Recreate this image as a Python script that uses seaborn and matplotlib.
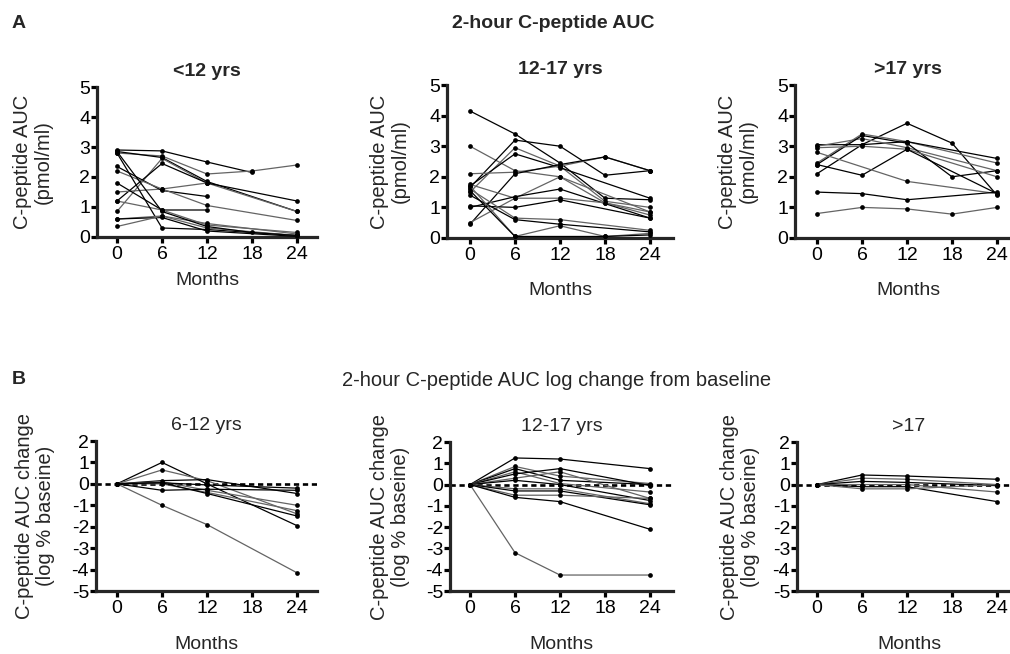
import numpy as np
import pandas as pd
import matplotlib
matplotlib.use("Agg")
import matplotlib.pyplot as plt
import seaborn as sns

nan = np.nan

# ---------------- data ----------------
months = [0, 6, 12, 18, 24]
month_ticks = [0, 6, 12, 18, 24]
auc_ticks = [0, 1, 2, 3, 4, 5]
change_ticks = [-5, -4, -3, -2, -1, 0, 1, 2]

# Panel A: 2-hour C-peptide AUC (pmol/ml), one list per participant
auc_lt12 = [
    [2.90, 2.87, 2.50, 2.15, nan],
    [2.80, 2.70, 2.10, 2.20, 2.40],
    [2.85, 2.65, 1.85, nan, 0.85],
    [0.85, 2.62, 1.80, nan, 0.85],
    [1.20, 2.45, 1.80, nan, 1.20],
    [1.50, 1.60, 1.80, nan, nan],
    [2.35, 1.55, 1.35, nan, nan],
    [2.20, 1.60, 1.05, nan, 0.55],
    [1.80, 0.90, 0.90, nan, nan],
    [1.20, 0.90, 0.40, nan, 0.15],
    [2.80, 0.30, 0.25, nan, 0.05],
    [0.60, 0.70, 0.30, nan, 0.05],
    [0.60, 0.65, 0.20, nan, 0.02],
    [0.35, 0.70, 0.45, nan, 0.10],
    [2.85, 0.85, 0.35, 0.15, 0.05],
]
auc_12_17 = [
    [4.15, 3.40, 2.45, 1.30, 1.25],
    [3.00, 2.20, 2.00, nan, 0.85],
    [1.65, 3.20, 3.00, 2.05, 2.20],
    [1.50, 2.95, 2.35, 1.20, 1.00],
    [1.70, 2.75, 2.30, nan, 1.30],
    [2.10, 2.15, 2.35, 2.65, 2.20],
    [0.45, 2.10, 2.40, 2.65, 2.20],
    [1.75, 1.30, 2.00, 1.15, 0.75],
    [1.00, 1.35, 1.60, nan, 0.65],
    [0.50, 1.30, 1.30, 1.15, 0.85],
    [1.05, 1.00, 1.25, nan, 0.65],
    [1.60, 0.65, 0.60, nan, 0.25],
    [1.40, 0.60, 0.45, nan, 0.20],
    [1.70, 0.05, 0.40, 0.05, 0.15],
    [1.55, 0.05, nan, 0.05, 0.10],
]
auc_gt17 = [
    [2.10, 3.05, 3.75, 3.10, 1.40],
    [2.45, 3.40, 3.15, nan, 2.45],
    [3.05, 3.05, 3.15, nan, 2.60],
    [3.00, 3.25, 2.95, nan, 2.20],
    [2.40, 3.35, 3.10, 2.00, 2.20],
    [2.95, 3.00, 2.90, nan, 2.00],
    [2.40, 2.05, 2.90, nan, 1.45],
    [2.80, nan, 1.85, nan, 1.45],
    [1.50, 1.45, 1.25, nan, 1.50],
    [0.80, 1.00, 0.95, 0.78, 1.00],
]

# Panel B: log change from baseline
chg_6_12 = [
    [0, 1.00, 0.00, nan, -1.95],
    [0, 0.65, 0.15, nan, -1.40],
    [0, 0.15, 0.20, nan, -0.45],
    [0, 0.10, -0.30, nan, -1.00],
    [0, 0.05, -0.05, nan, -0.20],
    [0, 0.00, -0.40, nan, -1.25],
    [0, -0.30, -0.25, nan, -0.30],
    [0, -1.00, -1.90, nan, -4.15],
    [0, 0.05, -0.45, nan, -1.50],
]
chg_12_17 = [
    [0, 1.25, 1.20, nan, 0.75],
    [0, 0.85, 0.40, nan, 0.05],
    [0, 0.75, 0.20, nan, 0.00],
    [0, 0.60, 0.05, nan, -0.35],
    [0, 0.50, 0.75, nan, -0.05],
    [0, 0.30, 0.60, nan, -0.65],
    [0, 0.20, 0.00, nan, -0.75],
    [0, -0.20, -0.20, nan, -0.90],
    [0, -0.30, -0.30, nan, -0.95],
    [0, -0.50, -0.50, nan, -0.65],
    [0, -0.60, -0.80, nan, -2.10],
    [0, -3.20, -4.25, nan, -4.25],
]
chg_gt17 = [
    [0, 0.45, 0.40, nan, 0.25],
    [0, 0.30, 0.25, nan, 0.00],
    [0, 0.15, 0.10, nan, -0.05],
    [0, 0.00, 0.00, nan, -0.35],
    [0, -0.10, -0.10, nan, -0.80],
    [0, -0.20, -0.20, nan, 0.00],
]

# ---------------- style ----------------
sns.set_theme(style="ticks")
plt.rcParams["font.family"] = ["Liberation Sans", "DejaVu Sans"]
plt.rcParams["axes.linewidth"] = 2.3
plt.rcParams["axes.unicode_minus"] = False

W, H = 1010, 654
fig = plt.figure(figsize=(W / 100, H / 100), dpi=100)


def make_ax(left, right, top, bottom):
    return fig.add_axes([left / W, 1 - bottom / H, (right - left) / W, (bottom - top) / H])


def panel(ax, subjects, ylim, yticks, title, bold, ylabel, ylab_x, xlab_y, dashed):
    rows = []
    for i, s in enumerate(subjects):
        for m, v in zip(months, s):
            if not np.isnan(v):
                rows.append((i, m, v))
    df = pd.DataFrame(rows, columns=["subject", "Months", "value"])
    pal = ["#000000" if i % 2 == 0 else "#646464" for i in range(len(subjects))]
    if dashed:
        ax.axhline(0, color="black", lw=1.9, ls=(0, (2.0, 1.4)), zorder=1)
    sns.lineplot(data=df, x="Months", y="value", hue="subject", units="subject",
                 estimator=None, palette=pal, legend=False, ax=ax,
                 marker="o", markersize=3.4, markerfacecolor="black",
                 markeredgecolor="black", markeredgewidth=0, lw=0.9,
                 clip_on=False, zorder=3)
    ax.set_ylim(*ylim)
    ax.set_yticks(yticks)
    ax.set_xticks(month_ticks)
    sns.despine(ax=ax)
    ax.tick_params(axis="both", width=2.3, length=4.5, labelsize=14, colors="black")
    ax.tick_params(axis="y", pad=0.5)
    ax.tick_params(axis="x", pad=2.0)
    ax.set_title(title, fontsize=14, fontweight="bold" if bold else "normal", pad=8)
    ax.set_ylabel(ylabel, fontsize=14.5, linespacing=1.15)
    ax.yaxis.set_label_coords(ylab_x, 0.5)
    ax.set_xlabel("Months", fontsize=14)
    ax.xaxis.set_label_coords(0.5, xlab_y)


def axes_for(axis_px, zero_px, right_px, top, bottom):
    ax = make_ax(axis_px, right_px, top, bottom)
    ppm = 7.5
    ax.set_xlim((axis_px - zero_px) / ppm, (right_px - zero_px) / ppm)
    return ax

a1 = axes_for(97, 117, 317, 87, 237)
a2 = axes_for(447, 470, 673, 85, 238)
a3 = axes_for(795, 817, 1021, 85, 238)
b1 = axes_for(96, 117, 317, 441, 591)
b2 = axes_for(450, 470, 673, 442, 591)
b3 = axes_for(797, 817, 1021, 442, 591)

ylab_a = "C-peptide AUC\n(pmol/ml)"
ylab_b = "C-peptide AUC change\n(log % baseine)"

panel(a1, auc_lt12, (0, 5), auc_ticks, "<12 yrs", True, ylab_a, -(97 - 53) / 220, -(272 - 237) / 150, False)
panel(a2, auc_12_17, (0, 5), auc_ticks, "12-17 yrs", True, ylab_a, -(447 - 410) / 226, -(282 - 238) / 153, False)
panel(a3, auc_gt17, (0, 5), auc_ticks, ">17 yrs", True, ylab_a, -(795 - 758) / 226, -(282 - 238) / 153, False)
panel(b1, chg_6_12, (-5, 2), change_ticks, "6-12 yrs", False, ylab_b, -(96 - 55) / 221, -(636 - 591) / 150, True)
panel(b2, chg_12_17, (-5, 2), change_ticks, "12-17 yrs", False, ylab_b, -(450 - 410) / 223, -(636 - 591) / 149, True)
panel(b3, chg_gt17, (-5, 2), change_ticks, ">17", False, ylab_b, -(797 - 760) / 224, -(636 - 591) / 149, True)

fig.text(12 / W, 1 - 24 / H, "A", fontsize=14, fontweight="bold", va="center", ha="left")
fig.text(553 / W, 1 - 24 / H, "2-hour C-peptide AUC", fontsize=14, fontweight="bold", va="center", ha="center")
fig.text(12 / W, 1 - 380 / H, "B", fontsize=14, fontweight="bold", va="center", ha="left")
fig.text(557 / W, 1 - 380 / H, "2-hour C-peptide AUC log change from baseline", fontsize=14.5, va="center", ha="center")

fig.savefig("out.png", dpi=100, facecolor="white")
